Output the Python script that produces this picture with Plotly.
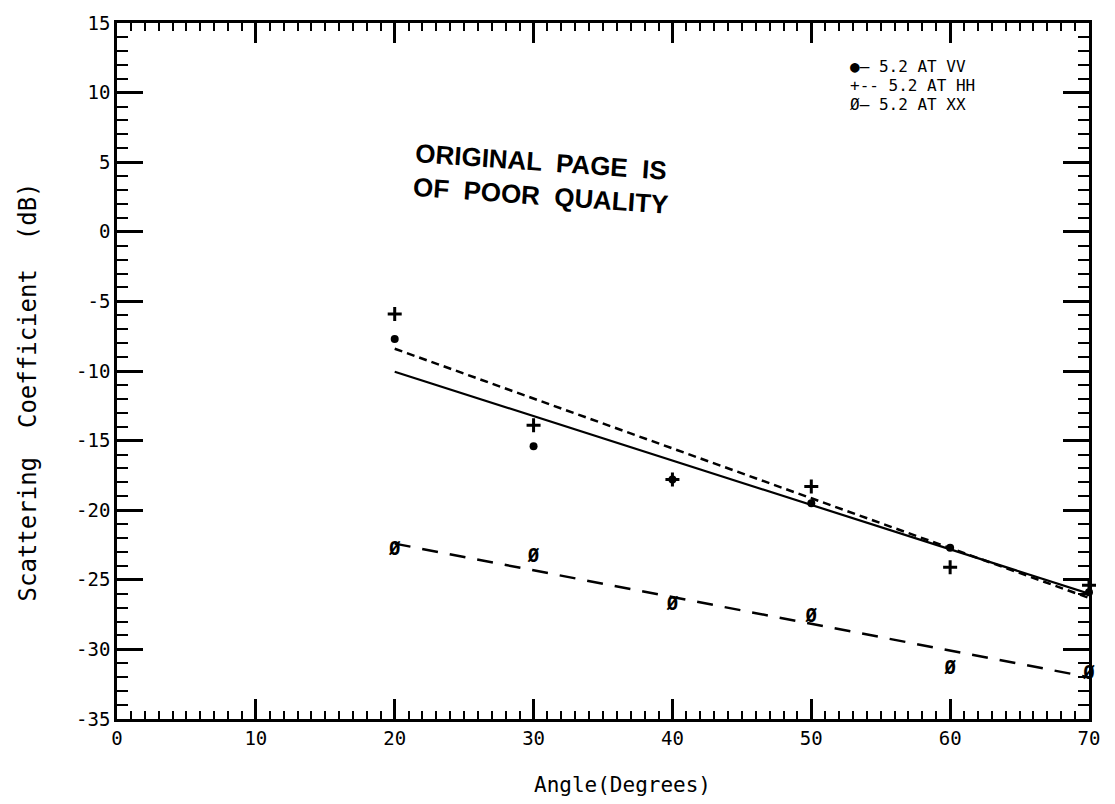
import plotly.graph_objects as go

# ---- data ----
angles = [20, 30, 40, 50, 60, 70]
vv_db = [-7.7, -15.4, -17.8, -19.5, -22.7, -25.9]
hh_db = [-5.9, -13.9, -17.8, -18.3, -24.1, -25.4]
xx_db = [-22.9, -23.4, -26.8, -27.7, -31.4, -31.8]

fit_x = [20, 70]
vv_fit = [-10.05, -26.0]
hh_fit = [-8.4, -26.3]
xx_fit = [-22.4, -32.0]

legend_labels = ["5.2 AT VV", "5.2 AT HH", "5.2 AT XX"]
x_ticks = [0, 10, 20, 30, 40, 50, 60, 70]
y_ticks = [15, 10, 5, 0, -5, -10, -15, -20, -25, -30, -35]

FONT = "DejaVu Sans Mono"
INK = "black"

fig = go.Figure()

# fitted lines
fig.add_trace(go.Scatter(x=fit_x, y=vv_fit, mode="lines",
                         line=dict(color=INK, width=2.2), showlegend=False))
fig.add_trace(go.Scatter(x=fit_x, y=hh_fit, mode="lines",
                         line=dict(color=INK, width=2.5, dash="8px,5px"), showlegend=False))
fig.add_trace(go.Scatter(x=fit_x, y=xx_fit, mode="lines",
                         line=dict(color=INK, width=2.5, dash="16px,12px"), showlegend=False))

# measured points
fig.add_trace(go.Scatter(x=angles, y=vv_db, mode="markers",
                         marker=dict(symbol="circle", size=8, color=INK),
                         showlegend=False, cliponaxis=False))
fig.add_trace(go.Scatter(x=angles, y=hh_db, mode="markers",
                         marker=dict(symbol="cross-thin", size=10,
                                     line=dict(color=INK, width=3)),
                         showlegend=False, cliponaxis=False))
fig.add_trace(go.Scatter(x=angles, y=xx_db, mode="text", text=["Ø"] * len(angles),
                         textfont=dict(family=FONT, size=19, color=INK, weight="bold"),
                         textposition="middle center",
                         showlegend=False, cliponaxis=False))

# legend (drawn as text)
legend_syms = ["●–", "+--", "Ø–"]
for i, (sym, lab) in enumerate(zip(legend_syms, legend_labels)):
    fig.add_annotation(xref="paper", yref="paper", x=0.752, y=0.937 - i * 0.027,
                       text=sym + " " + lab, showarrow=False, xanchor="left",
                       yanchor="middle",
                       font=dict(family=FONT, size=16, color=INK))

# stamp
fig.add_annotation(xref="paper", yref="paper", x=0.437, y=0.838,
                   text="ORIGINAL  PAGE  IS<br>OF  POOR  QUALITY",
                   showarrow=False, textangle=4, align="left",
                   font=dict(family="Liberation Sans", size=26, color=INK,
                             weight="bold"))

# axis titles
fig.add_annotation(xref="paper", yref="paper", x=0.52, y=-0.095,
                   text="Angle(Degrees)", showarrow=False, yanchor="middle",
                   font=dict(family=FONT, size=21, color=INK))
fig.add_annotation(xref="paper", yref="paper", x=-0.092, y=0.47,
                   text="Scattering  Coefficient  (dB)", showarrow=False,
                   textangle=-90, xanchor="center",
                   font=dict(family=FONT, size=24, color=INK))

fig.update_xaxes(range=[0, 70], tickvals=x_ticks, ticktext=[str(v) for v in x_ticks],
                 ticks="inside", ticklen=20, tickwidth=2.5, tickcolor=INK,
                 minor=dict(dtick=1, ticks="inside", ticklen=8, tickwidth=2, tickcolor=INK),
                 showline=True, linewidth=2.5, linecolor=INK, mirror="ticks",
                 showgrid=False, zeroline=False,
                 tickfont=dict(family=FONT, size=19, color=INK))
fig.update_yaxes(range=[-35, 15], tickvals=y_ticks, ticktext=[str(v) for v in y_ticks],
                 ticks="inside", ticklen=26, tickwidth=2.5, tickcolor=INK,
                 minor=dict(dtick=1, ticks="inside", ticklen=11, tickwidth=2, tickcolor=INK),
                 showline=True, linewidth=2.5, linecolor=INK, mirror="ticks",
                 showgrid=False, zeroline=False,
                 tickfont=dict(family=FONT, size=19, color=INK))

fig.update_layout(width=1115, height=804,
                  margin=dict(l=117, r=26, t=19, b=85),
                  plot_bgcolor="white", paper_bgcolor="white",
                  showlegend=False)

fig.write_html("out.html")
